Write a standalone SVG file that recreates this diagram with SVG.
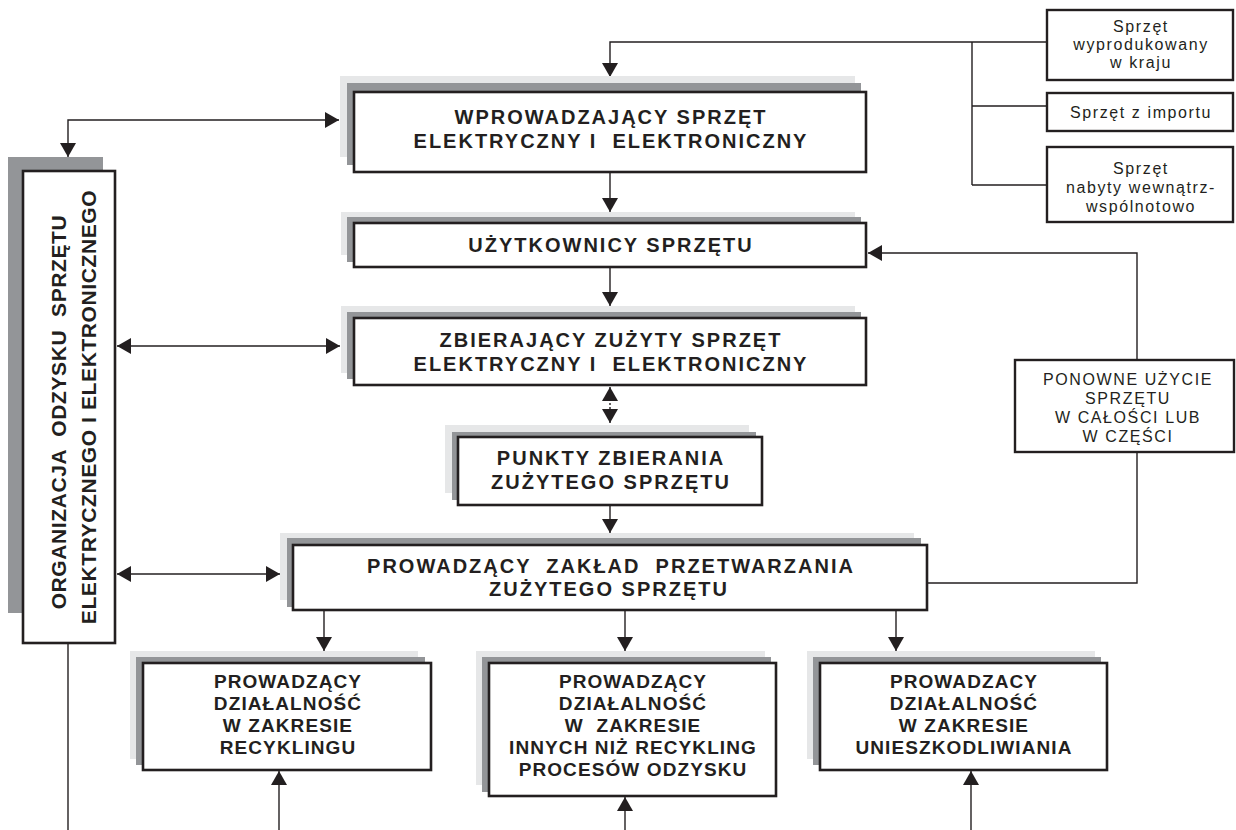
<svg xmlns="http://www.w3.org/2000/svg" width="1236" height="830" viewBox="0 0 1236 830">
  <style>
    .bg { fill: #ffffff; }
    .sh1 { fill: #e6e7e8; }
    .sh2 { fill: #939598; }
    .box { fill: #ffffff; stroke: #231f20; stroke-width: 2.6; }
    .sbox { fill: #ffffff; stroke: #231f20; stroke-width: 2.4; }
    .ln { fill: none; stroke: #231f20; stroke-width: 1.4; }
    .dash { fill: none; stroke: #231f20; stroke-width: 1.4; stroke-dasharray: 2 2; }
    .t { font-family: "Liberation Sans", Arial, sans-serif; font-weight: bold; font-size: 20px; letter-spacing: 2px; fill: #231f20; text-anchor: middle; }
    .tb { font-family: "Liberation Sans", Arial, sans-serif; font-weight: bold; font-size: 19px; letter-spacing: 1.1px; fill: #231f20; text-anchor: middle; }
    .tv { font-family: "Liberation Sans", Arial, sans-serif; font-weight: bold; font-size: 21px; letter-spacing: 0.6px; fill: #231f20; text-anchor: middle; }
    .tr { font-family: "Liberation Sans", Arial, sans-serif; font-size: 16px; letter-spacing: 1.6px; fill: #231f20; text-anchor: middle; }
  </style>
  <defs>
    <marker id="arrow" viewBox="0 0 14 16" refX="14" refY="8" markerWidth="14" markerHeight="16" markerUnits="userSpaceOnUse" orient="auto-start-reverse">
      <path d="M0,0 L14,8 L0,16 Z" fill="#231f20"/>
    </marker>
  </defs>
  <rect class="bg" x="0" y="0" width="1236" height="830"/>

  <!-- connectors -->
  <g id="connectors">
    <!-- sources feeding the top node -->
    <path class="ln" d="M1047,42 H610 V77" marker-end="url(#arrow)"/>
    <path class="ln" d="M972,42 V185 M972,106 H1047 M972,185 H1047"/>
    <!-- top node <-> organisation -->
    <path class="ln" d="M339,120 H68 V157" marker-start="url(#arrow)" marker-end="url(#arrow)"/>
    <!-- main chain -->
    <path class="ln" d="M610,172 V212" marker-end="url(#arrow)"/>
    <path class="ln" d="M610,267 V306" marker-end="url(#arrow)"/>
    <path class="ln" d="M610,399 V387" marker-end="url(#arrow)"/>
    <path class="dash" d="M610,399 V409"/>
    <path class="ln" d="M610,409 V423" marker-end="url(#arrow)"/>
    <path class="ln" d="M610,505 V533" marker-end="url(#arrow)"/>
    <!-- organisation <-> collectors / treatment -->
    <path class="ln" d="M117,346 H340" marker-start="url(#arrow)" marker-end="url(#arrow)"/>
    <path class="ln" d="M117,574 H280" marker-start="url(#arrow)" marker-end="url(#arrow)"/>
    <path class="ln" d="M68,643 V830"/>
    <!-- treatment to processing branches -->
    <path class="ln" d="M324,610 V651" marker-end="url(#arrow)"/>
    <path class="ln" d="M625,610 V651" marker-end="url(#arrow)"/>
    <path class="ln" d="M896,610 V651" marker-end="url(#arrow)"/>
    <path class="ln" d="M279,830 V771" marker-end="url(#arrow)"/>
    <path class="ln" d="M625,830 V797" marker-end="url(#arrow)"/>
    <path class="ln" d="M971,830 V771" marker-end="url(#arrow)"/>
    <!-- reuse loop back to users -->
    <path class="ln" d="M927,583 H1137 V253 H868" marker-end="url(#arrow)"/>
  </g>

  <!-- source boxes -->
  <g id="src-kraj">
    <rect class="sbox" x="1047" y="10" width="186" height="70"/>
    <text class="tr" x="1141" y="32">Sprzęt</text>
    <text class="tr" x="1141" y="50">wyprodukowany</text>
    <text class="tr" x="1141" y="68">w kraju</text>
  </g>
  <g id="src-import">
    <rect class="sbox" x="1047" y="93" width="186" height="38"/>
    <text class="tr" x="1141" y="118">Sprzęt z importu</text>
  </g>
  <g id="src-wspolnota">
    <rect class="sbox" x="1047" y="147" width="186" height="75"/>
    <text class="tr" x="1141" y="174">Sprzęt</text>
    <text class="tr" x="1141" y="193">nabyty wewnątrz-</text>
    <text class="tr" x="1141" y="212">wspólnotowo</text>
  </g>

  <!-- main nodes -->
  <g id="wprowadzajacy">
    <rect class="sh1" x="340" y="76" width="515" height="81"/>
    <rect class="sh2" x="347" y="83" width="514" height="82"/>
    <rect class="box" x="354" y="92" width="512" height="80"/>
    <text class="t" x="611" y="124">WPROWADZAJĄCY SPRZĘT</text>
    <text class="t" x="611" y="148" xml:space="preserve">ELEKTRYCZNY I  ELEKTRONICZNY</text>
  </g>

  <g id="uzytkownicy">
    <rect class="sh1" x="341" y="212" width="514" height="43"/>
    <rect class="sh2" x="347" y="217" width="514" height="45"/>
    <rect class="box" x="354" y="223" width="512" height="44"/>
    <text class="t" x="611" y="252">UŻYTKOWNICY SPRZĘTU</text>
  </g>

  <g id="zbierajacy">
    <rect class="sh1" x="341" y="306" width="514" height="67"/>
    <rect class="sh2" x="347" y="312" width="514" height="67"/>
    <rect class="box" x="354" y="318" width="512" height="67"/>
    <text class="t" x="611" y="347">ZBIERAJĄCY ZUŻYTY SPRZĘT</text>
    <text class="t" x="611" y="371" xml:space="preserve">ELEKTRYCZNY I  ELEKTRONICZNY</text>
  </g>

  <g id="punkty">
    <rect class="sh1" x="445" y="425" width="304" height="68"/>
    <rect class="sh2" x="452" y="432" width="304" height="68"/>
    <rect class="box" x="458" y="437" width="304" height="68"/>
    <text class="t" x="611" y="465">PUNKTY ZBIERANIA</text>
    <text class="t" x="611" y="489">ZUŻYTEGO SPRZĘTU</text>
  </g>

  <g id="zaklad">
    <rect class="sh1" x="280" y="533" width="634" height="67"/>
    <rect class="sh2" x="287" y="538" width="634" height="69"/>
    <rect class="box" x="293" y="545" width="634" height="65"/>
    <text class="t" x="611" y="573" xml:space="preserve">PROWADZĄCY  ZAKŁAD  PRZETWARZANIA</text>
    <text class="t" x="609" y="596">ZUŻYTEGO SPRZĘTU</text>
  </g>

  <g id="ponowne">
    <rect class="sbox" x="1015" y="360" width="219" height="92"/>
    <text class="tr" x="1128" y="385">PONOWNE UŻYCIE</text>
    <text class="tr" x="1128" y="404">SPRZĘTU</text>
    <text class="tr" x="1128" y="423">W CAŁOŚCI LUB</text>
    <text class="tr" x="1128" y="442">W CZĘŚCI</text>
  </g>

  <g id="organizacja">
    <rect class="sh2" x="8" y="157" width="95" height="456"/>
    <rect class="box" x="23" y="171" width="92" height="472"/>
    <text class="tv" transform="translate(66,412) rotate(-90)" xml:space="preserve">ORGANIZACJA  ODZYSKU  SPRZĘTU</text>
    <text class="tv" transform="translate(96,407) rotate(-90)">ELEKTRYCZNEGO I ELEKTRONICZNEGO</text>
  </g>

  <!-- processing branches -->
  <g id="recykling">
    <rect class="sh1" x="130" y="651" width="288" height="108"/>
    <rect class="sh2" x="136" y="657" width="289" height="108"/>
    <rect class="box" x="143" y="663" width="288" height="107"/>
    <text class="tb" x="288" y="688">PROWADZĄCY</text>
    <text class="tb" x="288" y="710">DZIAŁALNOŚĆ</text>
    <text class="tb" x="288" y="732">W ZAKRESIE</text>
    <text class="tb" x="288" y="754">RECYKLINGU</text>
  </g>

  <g id="odzysk">
    <rect class="sh1" x="476" y="651" width="289" height="134"/>
    <rect class="sh2" x="482" y="657" width="289" height="135"/>
    <rect class="box" x="489" y="663" width="287" height="133"/>
    <text class="tb" x="633" y="688">PROWADZĄCY</text>
    <text class="tb" x="633" y="710">DZIAŁALNOŚĆ</text>
    <text class="tb" x="633" y="732" xml:space="preserve">W  ZAKRESIE</text>
    <text class="tb" x="633" y="754">INNYCH NIŻ RECYKLING</text>
    <text class="tb" x="633" y="776">PROCESÓW ODZYSKU</text>
  </g>

  <g id="unieszkodliwianie">
    <rect class="sh1" x="807" y="651" width="288" height="108"/>
    <rect class="sh2" x="813" y="657" width="288" height="108"/>
    <rect class="box" x="820" y="663" width="287" height="107"/>
    <text class="tb" x="964" y="688">PROWADZACY</text>
    <text class="tb" x="964" y="710">DZIAŁALNOŚĆ</text>
    <text class="tb" x="964" y="732">W ZAKRESIE</text>
    <text class="tb" x="964" y="754">UNIESZKODLIWIANIA</text>
  </g>
</svg>
